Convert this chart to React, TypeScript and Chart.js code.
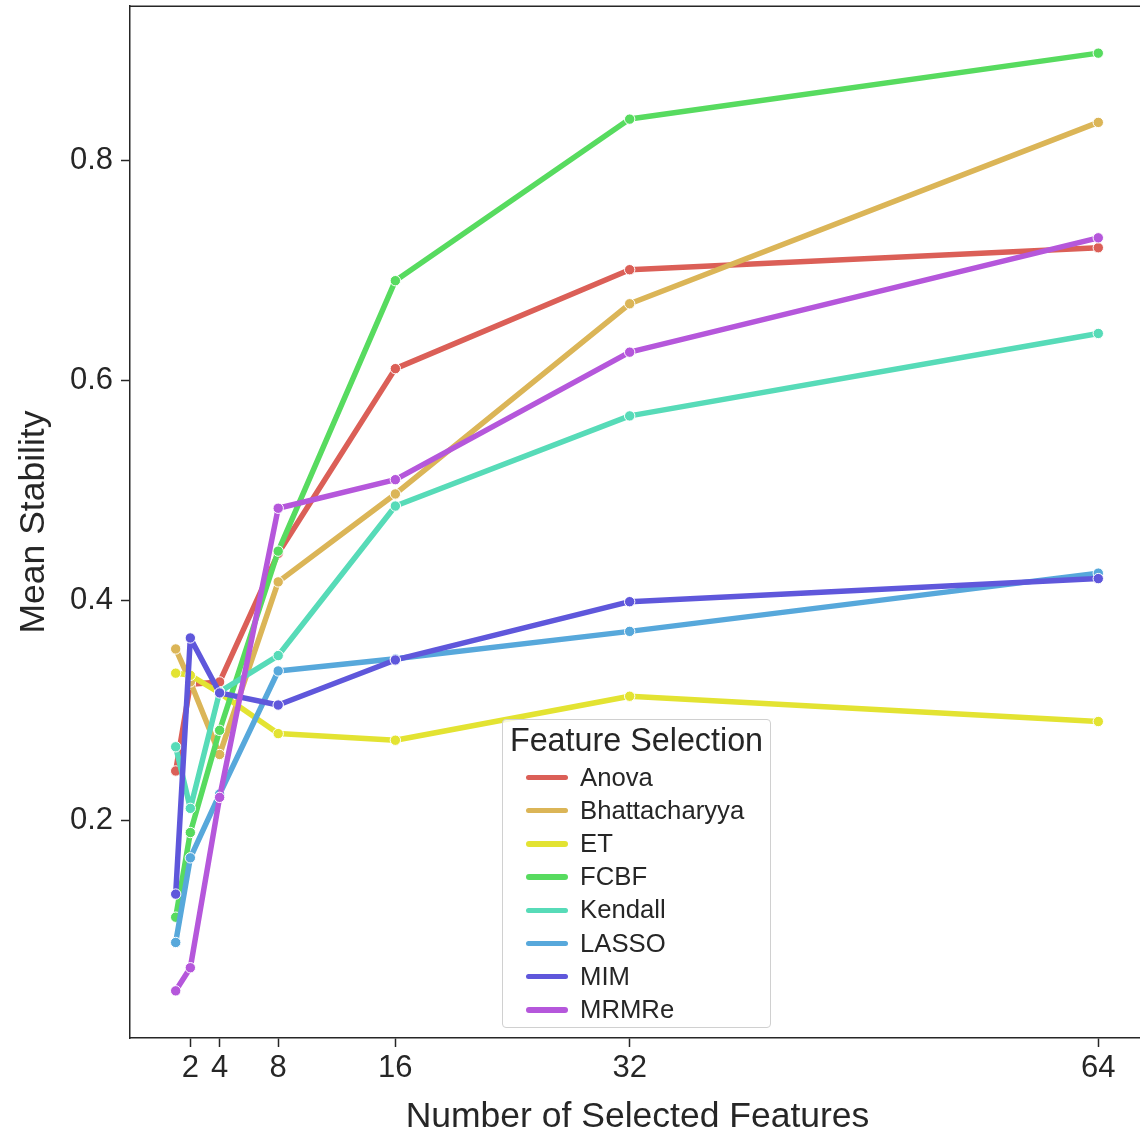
import React, { useEffect, useRef } from "react";
import { Chart, registerables } from "chart.js";

Chart.register(...registerables);

const FONT = '"Liberation Sans", Arial, Helvetica, sans-serif';
const INK = "#262626";

const featureCounts = [1, 2, 4, 8, 16, 32, 64];
const xTickValues = [2, 4, 8, 16, 32, 64];
const yTickValues = [0.2, 0.4, 0.6, 0.8];

const methodNames = ["Anova", "Bhattacharyya", "ET", "FCBF", "Kendall", "LASSO", "MIM", "MRMRe"];
const methodColors = ["#db5f57", "#dbb557", "#e3e332", "#57db5f", "#57dbb8", "#57a8db", "#5f57db", "#b557db"];

const anovaValues = [0.245, 0.324, 0.326, 0.443, 0.611, 0.701, 0.721];
const bhattacharyyaValues = [0.356, 0.326, 0.26, 0.417, 0.497, 0.67, 0.835];
const etValues = [0.334, 0.332, 0.316, 0.279, 0.273, 0.313, 0.29];
const fcbfValues = [0.112, 0.189, 0.282, 0.445, 0.691, 0.838, 0.898];
const kendallValues = [0.267, 0.211, 0.317, 0.35, 0.486, 0.568, 0.643];
const lassoValues = [0.089, 0.166, 0.224, 0.336, 0.347, 0.372, 0.425];
const mimValues = [0.133, 0.366, 0.316, 0.305, 0.346, 0.399, 0.42];
const mrmreValues = [0.045, 0.066, 0.221, 0.484, 0.51, 0.626, 0.73];

const seriesValues = [
  anovaValues,
  bhattacharyyaValues,
  etValues,
  fcbfValues,
  kendallValues,
  lassoValues,
  mimValues,
  mrmreValues,
];

const framePlugin = {
  id: "frame",
  afterDatasetsDraw(chart: any) {
    const { ctx, chartArea } = chart;
    ctx.save();
    ctx.strokeStyle = INK;
    ctx.lineWidth = 1.5;
    ctx.beginPath();
    ctx.moveTo(chartArea.left - 0.75, chartArea.top);
    ctx.lineTo(chartArea.right, chartArea.top);
    ctx.lineTo(chartArea.right, chartArea.bottom);
    ctx.stroke();
    ctx.restore();
  },
};

function zeroPad(s: any) {
  s.paddingTop = 0;
  s.paddingBottom = 0;
  s.paddingLeft = 0;
  s.paddingRight = 0;
}

export default function App() {
  const canvasRef = useRef<HTMLCanvasElement | null>(null);

  useEffect(() => {
    const canvas = canvasRef.current;
    if (!canvas) return;
    const datasets = methodNames.map((name, i) => ({
      label: name,
      data: featureCounts.map((x, j) => ({ x, y: seriesValues[i][j] })),
      borderColor: methodColors[i],
      backgroundColor: methodColors[i],
      borderWidth: 5.5,
      borderJoinStyle: "round",
      borderCapStyle: "round",
      pointRadius: 5.2,
      pointBorderWidth: 1,
      pointBorderColor: "#ffffff",
      pointBackgroundColor: methodColors[i],
      tension: 0,
      order: methodNames.length - i,
    }));
    const chart = new Chart(canvas, {
      type: "line",
      data: { datasets },
      plugins: [framePlugin],
      options: {
        animation: false,
        responsive: false,
        devicePixelRatio: 1,
        layout: { padding: { top: 6, right: 15, left: 0, bottom: 0 } },
        plugins: { legend: { display: false }, tooltip: { enabled: false } },
        scales: {
          x: {
            type: "linear",
            min: -2.12,
            max: 67.19,
            afterFit: (s: any) => {
              s.height = 99;
              zeroPad(s);
            },
            afterBuildTicks: (s: any) => {
              s.ticks = xTickValues.map((v) => ({ value: v }));
            },
            grid: { drawOnChartArea: false, drawTicks: true, tickLength: 9, tickWidth: 1.5, tickColor: INK },
            border: { display: true, color: INK, width: 1.5 },
            ticks: {
              font: { family: FONT, size: 31 },
              color: INK,
              padding: 3,
              maxRotation: 0,
              autoSkip: false,
              callback: (v: any) => String(v),
            },
          },
          y: {
            type: "linear",
            min: 0.0021,
            max: 0.9407,
            afterFit: (s: any) => {
              s.width = 130;
              zeroPad(s);
            },
            afterBuildTicks: (s: any) => {
              s.ticks = yTickValues.map((v) => ({ value: v }));
            },
            grid: { drawOnChartArea: false, drawTicks: true, tickLength: 9, tickWidth: 1.5, tickColor: INK },
            border: { display: true, color: INK, width: 1.5 },
            ticks: {
              font: { family: FONT, size: 31 },
              color: INK,
              padding: 8,
              callback: (v: any) => Number(v).toFixed(1),
            },
          },
        },
      },
    } as any);
    return () => chart.destroy();
  }, []);

  const legendTop = 719;
  const rowStart = 777.5;
  const rowStep = 33.2;

  return (
    <div
      style={{
        position: "absolute",
        left: 0,
        top: 0,
        width: 1140,
        height: 1137,
        overflow: "hidden",
        background: "#ffffff",
        fontFamily: FONT,
        color: INK,
      }}
    >
      <canvas ref={canvasRef} width={1160} height={1137} style={{ position: "absolute", left: 0, top: 0 }} />
      <div
        style={{
          position: "absolute",
          left: 32 - 250,
          top: 522 - 20,
          width: 500,
          height: 40,
          lineHeight: "40px",
          fontSize: 35.5,
          textAlign: "center",
          transform: "rotate(-90deg)",
          transformOrigin: "50% 50%",
          whiteSpace: "nowrap",
        }}
      >
        Mean Stability
      </div>
      <div
        style={{
          position: "absolute",
          left: 637.5 - 300,
          top: 1114.5 - 20,
          width: 600,
          height: 40,
          lineHeight: "40px",
          fontSize: 35.5,
          textAlign: "center",
          whiteSpace: "nowrap",
        }}
      >
        Number of Selected Features
      </div>
      <div
        style={{
          position: "absolute",
          left: 502,
          top: legendTop,
          width: 269,
          height: 309,
          boxSizing: "border-box",
          border: "1.3px solid #d0d0d0",
          borderRadius: 4,
          background: "rgba(255,255,255,0.8)",
        }}
      />
      <div
        style={{
          position: "absolute",
          left: 502,
          top: 740 - 20,
          width: 269,
          height: 40,
          lineHeight: "40px",
          fontSize: 32.3,
          textAlign: "center",
          whiteSpace: "nowrap",
        }}
      >
        Feature Selection
      </div>
      {methodNames.map((name, i) => {
        const cy = rowStart + i * rowStep;
        return (
          <React.Fragment key={name}>
            <div
              style={{
                position: "absolute",
                left: 526,
                top: cy - 2.75,
                width: 42,
                height: 5.5,
                borderRadius: 3,
                background: methodColors[i],
              }}
            />
            <div
              style={{
                position: "absolute",
                left: 580,
                top: cy - 1 - 16,
                height: 32,
                lineHeight: "32px",
                fontSize: 25.7,
                whiteSpace: "nowrap",
              }}
            >
              {name}
            </div>
          </React.Fragment>
        );
      })}
    </div>
  );
}
